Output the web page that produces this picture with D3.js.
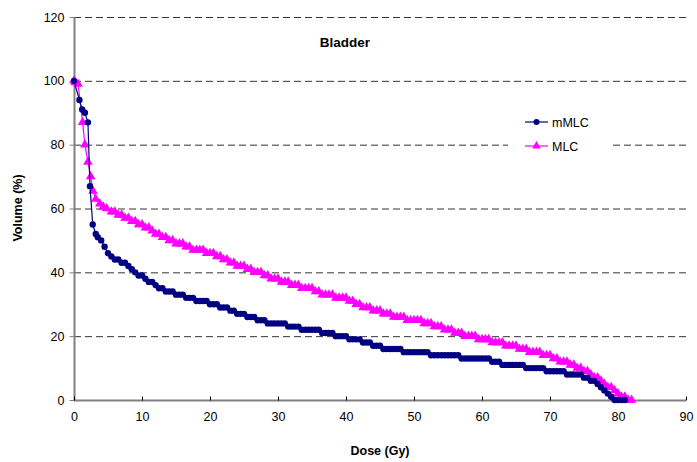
<!DOCTYPE html>
<html><head><meta charset="utf-8">
<script src="https://cdn.jsdelivr.net/npm/d3@7"></script>
<style>body{margin:0;background:#fff}svg{display:block;font-family:"Liberation Sans",Arial,sans-serif}</style>
</head><body><svg id="c" width="697" height="462"></svg>
<script>
const title = "Bladder";
const xTicks = [0,10,20,30,40,50,60,70,80,90];
const yTicks = [0,20,40,60,80,100,120];
const seriesNames = ["mMLC","MLC"];

const mmlcDose = [0,0.8,1.2,1.6,2.05,2.35,2.75,3.2,3.5,4,4.5,5,5.5,6,6.5,7,7.5,8,8.5,9,9.5,10,10.5,11,11.5,12,12.5,13,13.5,14,14.5,15,15.5,16,16.5,17,17.5,18,18.5,19,19.5,20,20.5,21,21.5,22,22.5,23,23.5,24,24.5,25,25.5,26,26.5,27,27.5,28,28.5,29,29.5,30,30.5,31,31.5,32,32.5,33,33.5,34,34.5,35,35.5,36,36.5,37,37.5,38,38.5,39,39.5,40,40.5,41,41.5,42,42.5,43,43.5,44,44.5,45,45.5,46,46.5,47,47.5,48,48.5,49,49.5,50,50.5,51,51.5,52,52.5,53,53.5,54,54.5,55,55.5,56,56.5,57,57.5,58,58.5,59,59.5,60,60.5,61,61.5,62,62.5,63,63.5,64,64.5,65,65.5,66,66.5,67,67.5,68,68.5,69,69.5,70,70.5,71,71.5,72,72.5,73,73.5,74,74.5,75,75.5,76,76.5,77,77.5,78,78.5,79,79.5,80,80.5,81];
const mmlcVol = [100,94,91,90,87,67,55,52,51,50,48,46,45,44,44,43,43,42,41,40,39,39,38,37,37,36,35,35,34,34,34,33,33,33,32,32,32,31,31,31,31,30,30,30,29,29,29,28,28,27,27,27,26,26,26,25,25,25,24,24,24,24,24,24,23,23,23,23,22,22,22,22,22,22,21,21,21,21,20,20,20,20,19,19,19,19,18,18,18,17,17,17,16,16,16,16,16,16,15,15,15,15,15,15,15,15,14,14,14,14,14,14,14,14,14,13,13,13,13,13,13,13,13,13,12,12,12,11,11,11,11,11,11,11,10,10,10,10,10,10,9,9,9,9,9,9,8,8,8,8,8,7,7,6,6,5,4,3,2,1,0,0,0,0,0];

const mlcDose = [0,0.15,0.6,1.27,1.6,2.05,2.45,2.8,3.2,3.8,4.3,4.8,5.5,6,6.5,7,7.5,8,8.5,9,9.5,10,10.5,11,11.5,12,12.5,13,13.5,14,14.5,15,15.5,16,16.5,17,17.5,18,18.5,19,19.5,20,20.5,21,21.5,22,22.5,23,23.5,24,24.5,25,25.5,26,26.5,27,27.5,28,28.5,29,29.5,30,30.5,31,31.5,32,32.5,33,33.5,34,34.5,35,35.5,36,36.5,37,37.5,38,38.5,39,39.5,40,40.5,41,41.5,42,42.5,43,43.5,44,44.5,45,45.5,46,46.5,47,47.5,48,48.5,49,49.5,50,50.5,51,51.5,52,52.5,53,53.5,54,54.5,55,55.5,56,56.5,57,57.5,58,58.5,59,59.5,60,60.5,61,61.5,62,62.5,63,63.5,64,64.5,65,65.5,66,66.5,67,67.5,68,68.5,69,69.5,70,70.5,71,71.5,72,72.5,73,73.5,74,74.5,75,75.5,76,76.5,77,77.5,78,78.5,79,79.5,80,80.5,81,81.5,82];
const mlcVol = [100,99.5,99,87,80,74.6,70,65.5,63,61.5,60.5,60,59,59,58,58,57,57,56,56,55,55,54,54,53,52,52,51,51,50,50,49,49,49,48,48,47,47,47,47,46,46,46,45,45,44,44,43,43,42,42,42,41,41,40,40,40,39,39,38,38,38,37,37,37,36,36,36,35,35,35,35,34,34,33,33,33,33,32,32,32,32,31,31,30,30,29,29,29,28,28,28,27,27,27,26,26,26,26,25,25,25,25,25,24,24,24,23,23,23,22,22,22,21,21,21,20,20,20,20,19,19,19,19,18,18,18,18,17,17,17,17,16,16,16,15,15,15,15,14,14,14,13,13,12,12,12,11,11,10,10,9,9,8,7,7,6,5,4,4,3,2,1,1,0,0];

const svg = d3.select("#c");
const m = {l:74, r:686, t:17, b:400};
const x = d3.scaleLinear().domain([0,90]).range([m.l, m.r]);
const y = d3.scaleLinear().domain([0,120]).range([m.b, m.t]);
const fontFam = "Liberation Sans, Arial, sans-serif";

// gridlines
svg.append("g").selectAll("line").data(yTicks.filter(d=>d>0)).join("line")
  .attr("x1", m.l).attr("x2", m.r)
  .attr("y1", d=>y(d)+0.5).attr("y2", d=>y(d)+0.5)
  .attr("stroke", "#333").attr("stroke-width", 1).attr("stroke-dasharray", "7,4");

// legend background (covers gridlines)
const lg = svg.append("g");
lg.append("rect").attr("x", 508).attr("y", 108).attr("width", 105).attr("height", 52).attr("fill", "#fff");

// y axis
const yAxis = svg.append("g").attr("transform", `translate(${m.l+0.5},0)`)
  .call(d3.axisLeft(y).tickValues(yTicks).tickSize(5).tickPadding(5));
yAxis.select(".domain").attr("stroke", "#808080").attr("stroke-width", 2).attr("d", `M0,${m.t}V${m.b}`);
yAxis.selectAll(".tick line").attr("stroke", "#808080");
yAxis.selectAll("text").attr("font-size", 12.5).attr("fill", "#000").attr("font-family", fontFam);

// x axis
const xAxis = svg.append("g").attr("transform", `translate(0,${m.b+0.5})`)
  .call(d3.axisBottom(x).tickValues(xTicks).tickSize(-4).tickPadding(12));
xAxis.select(".domain").attr("stroke", "#808080").attr("stroke-width", 2).attr("d", `M${m.l},0H${m.r}`);
xAxis.selectAll(".tick line").attr("stroke", "#000");
xAxis.selectAll("text").attr("font-size", 12.5).attr("fill", "#000").attr("font-family", fontFam);

const line = d3.line().x(d=>x(d[0])).y(d=>y(d[1]));
const mmlc = mmlcDose.map((d,i)=>[d, mmlcVol[i]]);
const mlc = mlcDose.map((d,i)=>[d, mlcVol[i]]);
const navy = "#000080", mag = "#FF00FF";
const tri = d3.symbol().type(d3.symbolTriangle).size(40);

// MLC
svg.append("path").datum(mlc).attr("d", line).attr("fill","none").attr("stroke", mag).attr("stroke-width", 1.2);
svg.append("g").selectAll("path").data(mlc).join("path")
  .attr("d", tri).attr("transform", d=>`translate(${x(d[0])},${y(d[1])})`).attr("fill", mag);

// mMLC
svg.append("path").datum(mmlc).attr("d", line).attr("fill","none").attr("stroke", navy).attr("stroke-width", 1.2);
svg.append("g").selectAll("circle").data(mmlc).join("circle")
  .attr("cx", d=>x(d[0])).attr("cy", d=>y(d[1])).attr("r", 3.2).attr("fill", navy);

// legend
const ly = [122, 146];
lg.append("line").attr("x1",525).attr("x2",548).attr("y1",ly[0]).attr("y2",ly[0]).attr("stroke",navy).attr("stroke-width",1.2);
lg.append("circle").attr("cx",536.5).attr("cy",ly[0]).attr("r",3).attr("fill",navy);
lg.append("line").attr("x1",525).attr("x2",548).attr("y1",ly[1]).attr("y2",ly[1]).attr("stroke",mag).attr("stroke-width",1.2);
lg.append("path").attr("d",d3.symbol().type(d3.symbolTriangle).size(32)).attr("transform",`translate(536.5,${ly[1]})`).attr("fill",mag);
lg.selectAll("text").data(seriesNames).join("text")
  .attr("x", 552).attr("y", (d,i)=>ly[i]+4.5).attr("font-size", 12.5).text(d=>d);

// titles
svg.append("text").attr("x", 345).attr("y", 47).attr("text-anchor","middle")
  .attr("font-size", 13.5).attr("font-weight","bold").text(title);
svg.append("text").attr("x", 380).attr("y", 455).attr("text-anchor","middle")
  .attr("font-size", 12.5).attr("font-weight","bold").text("Dose (Gy)");
svg.append("text").attr("transform","translate(22,208) rotate(-90)").attr("text-anchor","middle")
  .attr("font-size", 12.5).attr("font-weight","bold").text("Volume (%)");
</script></body></html>
